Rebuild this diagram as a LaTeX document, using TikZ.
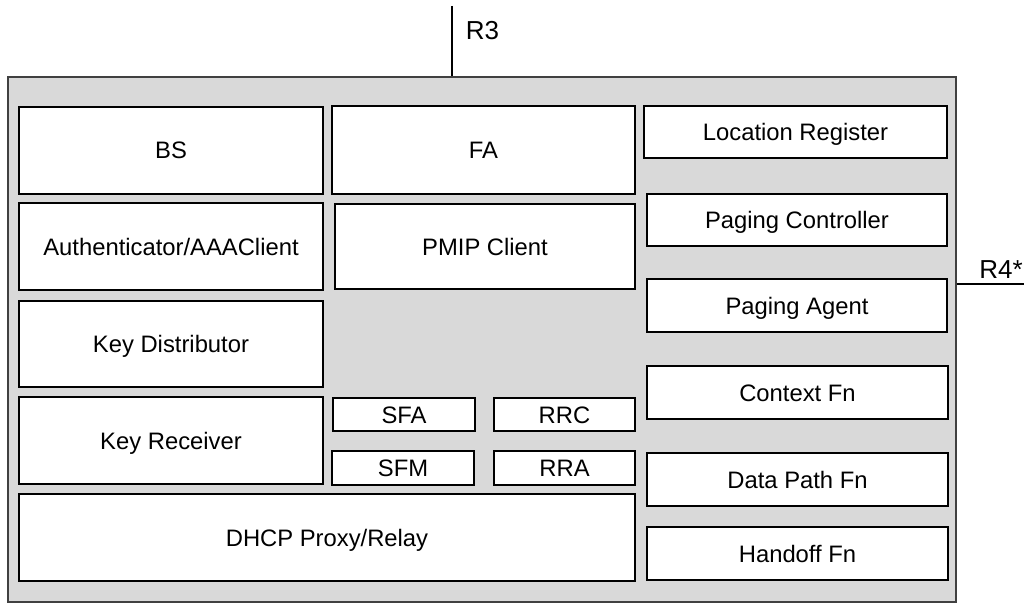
\documentclass[tikz,border=0pt]{standalone}
\usepackage{fontspec}
\setmainfont{Liberation Sans}
\begin{document}
\begin{tikzpicture}[x=1pt,y=-1pt,
  fbox/.style={draw=black, line width=1.5pt, fill=white, inner sep=0pt,
    font=\fontsize{23.8}{28}\selectfont, text height=17pt, text depth=0pt},
  outerbox/.style={draw=black!75, line width=1.2pt, fill=black!15, inner sep=0pt},
  link/.style={draw=black, line width=1.2pt},
  lbl/.style={inner sep=0pt, font=\fontsize{26}{30}\selectfont, text height=18.6pt, text depth=0pt}]
\useasboundingbox (0,0) rectangle (1027,604);
\node[outerbox, minimum width=948pt, minimum height=525pt] (sys) at (482,339.5) {};
% left column
\node[fbox, minimum width=304pt, minimum height=87pt] (bs) at (171,150.5) {BS};
\node[fbox, minimum width=304pt, minimum height=87pt] (auth) at (171,246.5) {Authenticator/AAAClient};
\node[fbox, minimum width=304pt, minimum height=86pt] (kd) at (171,344) {Key Distributor};
\node[fbox, minimum width=304pt, minimum height=87pt] (kr) at (171,440.5) {Key Receiver};
\node[fbox, minimum width=616pt, minimum height=87pt] (dhcp) at (327,537.5) {DHCP Proxy/Relay};
% middle column
\node[fbox, minimum width=303pt, minimum height=88pt] (fa) at (483.5,150) {FA};
\node[fbox, minimum width=300pt, minimum height=85pt] (pmip) at (485,246.5) {PMIP Client};
\node[fbox, minimum width=142pt, minimum height=33pt] (sfa) at (404,414.5) {SFA};
\node[fbox, minimum width=141pt, minimum height=33pt] (rrc) at (564.5,414.5) {RRC};
\node[fbox, minimum width=142pt, minimum height=34pt] (sfm) at (403,468) {SFM};
\node[fbox, minimum width=141pt, minimum height=34pt] (rra) at (564.5,468) {RRA};
% right column
\node[fbox, minimum width=303pt, minimum height=52pt] (lr) at (795.5,132) {Location Register};
\node[fbox, minimum width=300pt, minimum height=52pt] (pc) at (797,220) {Paging Controller};
\node[fbox, minimum width=300pt, minimum height=53pt] (pa) at (797,305.5) {Paging Agent};
\node[fbox, minimum width=301pt, minimum height=53pt] (cf) at (797.5,392.5) {Context Fn};
\node[fbox, minimum width=301pt, minimum height=53pt] (dp) at (797.5,479.5) {Data Path Fn};
\node[fbox, minimum width=301pt, minimum height=53pt] (hf) at (797.5,553.5) {Handoff Fn};
% reference points
\coordinate (r3top) at (452,6);
\coordinate (r4end) at (1024,284);
\draw[link] (r3top) -- (r3top |- sys.north);
\draw[link] (sys.east |- r4end) -- (r4end);
\node[lbl] (r3) at (482.5,30.5) {R3};
\node[lbl] (r4) at (1001,269.5) {R4*};
\end{tikzpicture}
\end{document}
